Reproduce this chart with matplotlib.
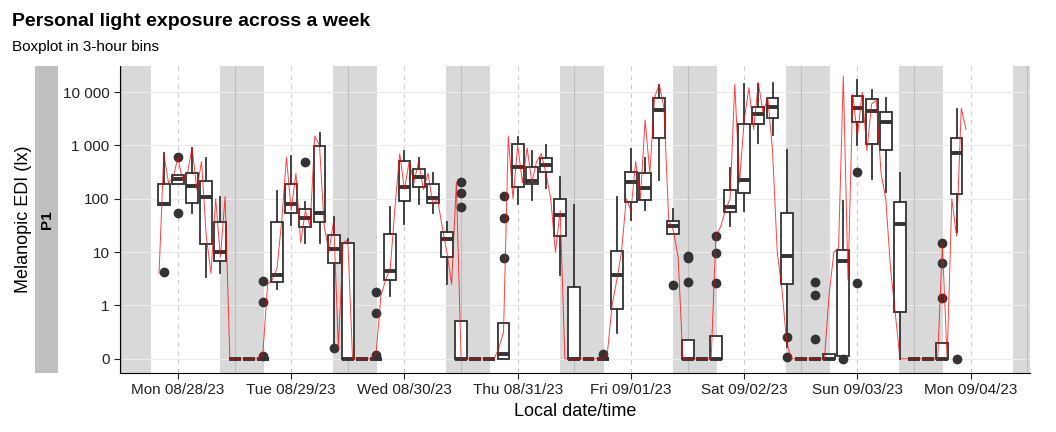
import matplotlib
matplotlib.use("Agg")
import matplotlib.pyplot as plt
import numpy as np

plt.rcParams['font.family'] = ['Liberation Sans', 'DejaVu Sans']

# --- data -------------------------------------------------------------
tick_labels = ["Mon 08/28/23", "Tue 08/29/23", "Wed 08/30/23", "Thu 08/31/23",
               "Fri 09/01/23", "Sat 09/02/23", "Sun 09/03/23", "Mon 09/04/23"]

# 3-hour bin centres, hours since Mon 08/28 00:00
bin_hours = [9, 12, 15, 18, 21,
             24, 27, 30, 33, 36, 39, 42, 45,
             48, 51, 54, 57, 60, 63, 66, 69,
             72, 75, 78, 81, 84, 87, 90, 93,
             96, 99, 102, 105, 108, 111, 114, 117,
             120, 123, 126, 129, 132, 135, 138, 141,
             144, 147, 150, 153, 156, 159, 162, 165,
             168, 171, 174, 177]
# whisker low, q1, median, q3, whisker high
wlo = [77, 190, 53, 3.4, 4,
       0, 0, 0, 2.0, 32, 15, 15, 0.2,
       0, 0, 0, 1.5, 33, 80, 53, 2.5,
       0, 0, 0, 0, 80, 95, 160, 3.8,
       0, 0, 0, 0.49, 40, 62, 225, 22,
       0, 0, 0, 31, 58, 1100, 1600, 0.22,
       0, 0, 0, 0, 1000, 230, 135, 0,
       0, 0, 0, 24]
q1 = [77, 190, 83, 14, 6.8,
      0, 0, 0, 2.8, 55, 29, 36, 6.2,
      0, 0, 0, 3.0, 90, 165, 83, 8,
      0, 0, 0, 0, 165, 190, 320, 20,
      0, 0, 0, 0.93, 88, 95, 1400, 22,
      0, 0, 0, 56, 130, 2550, 3200, 2.5,
      0, 0, 0, 0.06, 2700, 1050, 820, 0.87,
      0, 0, 0, 125]
med = [80, 240, 177, 107, 10,
       0, 0, 0, 3.8, 80, 43, 55, 11.5,
       0, 0, 0, 4.5, 165, 260, 105, 17.7,
       0, 0, 0, 0.09, 400, 220, 430, 50,
       0, 0, 0, 3.8, 210, 160, 4700, 31,
       0, 0, 0, 70, 225, 3900, 5300, 8.6,
       0, 0, 0, 6.7, 5000, 4500, 2800, 33,
       0, 0, 0, 710]
q3 = [190, 280, 300, 220, 36,
      0, 0, 0, 36, 190, 63, 980, 21,
      15, 0, 0, 22, 500, 360, 190, 24,
      0.7, 0, 0, 0.67, 1050, 400, 575, 100,
      2.2, 0, 0, 10.5, 320, 300, 7600, 39,
      0.36, 0, 0.42, 145, 2500, 5300, 7800, 55,
      0, 0, 0.09, 11, 8500, 7300, 4200, 86,
      0, 0, 0.3, 1360]
whi = [710, 280, 890, 575, 110,
       0, 0, 0, 137, 640, 88, 1700, 46,
       17.5, 0, 0, 71, 770, 575, 310, 36,
       0.7, 0, 0, 0.67, 1450, 770, 1000, 260,
       77, 0, 0, 110, 850, 590, 13500, 65,
       0.36, 0, 0.42, 385, 14000, 14000, 15000, 820,
       0, 0, 0.09, 91, 17000, 11000, 7800, 310,
       0, 0, 0.3, 4900]
outliers = {9: [4.2], 12: [620, 55], 30: [2.9, 1.15, 0.06], 39: [480], 45: [0.2],
            54: [1.8, 0.86, 0.07], 72: [210, 130, 71], 81: [113, 44, 7.7],
            102: [0.1], 117: [2.4], 120: [8.3, 7.7, 2.7], 126: [20, 9.8, 2.6],
            141: [0.4, 0.03], 147: [2.7, 1.6, 0.37], 153: [0.0],
            156: [320, 2.6], 174: [14.7, 6.2, 1.4], 177: [0.0]}

# hourly light readings (lx), starting Mon 08/28 08:00
line_start_hour = 8
line_values = [
    4, 700, 200, 250, 600, 220, 300, 900, 150, 500, 20, 4, 100, 8, 110, 0,          # Mon 08-23
    0, 0, 0, 0, 0, 0, 0.1, 2.5, 3, 5, 40, 600, 60, 300, 15, 60, 30, 1500, 1000, 30, 10, 40, 0.2, 15,  # Tue
    17, 0, 0, 0, 0, 0, 0.1, 1.5, 3, 5, 70, 700, 150, 500, 200, 500, 150, 300, 80, 100, 30, 10, 2.5, 200,  # Wed
    0, 0, 0, 0, 0, 0, 0, 0, 0.2, 0.5, 1500, 100, 1000, 200, 900, 200, 500, 700, 300, 100, 10, 60, 0, 0,  # Thu
    0, 0, 0, 0, 0, 0, 0, 0.1, 1, 3, 10, 100, 60, 500, 100, 3000, 300, 8000, 14000, 5000, 40, 25, 8, 0,  # Fri
    0, 0, 0, 0, 0, 0, 20, 30, 60, 100, 14000, 200, 3000, 12000, 2000, 15000, 4000, 8000, 800, 10, 2, 0.3, 0, 0,  # Sat
    0, 0, 0, 0, 0, 0, 1.6, 10, 12, 20000, 3, 9000, 1500, 10000, 800, 6000, 7000, 300, 100, 5, 0.87, 0, 0, 0,  # Sun
    0, 0, 0, 0, 0, 0, 14, 0, 100, 20, 5000, 2000]                                      # Mon 09/04

night_start_hour = 20.9
night_end_hour = 6.2

# --- figure -----------------------------------------------------------
fig = plt.figure(figsize=(10.56, 4.32), dpi=100)
ax = fig.add_axes([0.1136, 0.137, 0.975 - 0.1136, 0.71])

# night shading
ax.axvspan(-1, night_end_hour / 24, color="#D9D9D9", lw=0, zorder=0)
for d in range(8):
    ax.axvspan(d + night_start_hour / 24, d + 1 + night_end_hour / 24, color="#D9D9D9", lw=0, zorder=0)

ax.set_yscale("symlog", linthresh=1, linscale=0.9)
ax.set_ylim(-0.262, 30700)
ax.set_xlim(-0.012, 8.02)

yt = [0, 1, 10, 100, 1000, 10000]
ax.set_yticks(yt)
ax.set_yticklabels(["0", "1", "10", "100", "1 000", "10 000"])
ax.yaxis.set_minor_locator(matplotlib.ticker.NullLocator())
for v in yt:
    ax.axhline(v, color="#EBEBEB", lw=0.8, zorder=0.5)
for d in range(9):
    ax.axvline(d, color="#BEBEBE", lw=0.8, zorder=0.5)
for d in range(8):
    ax.axvline(d + 0.5, color="#CCCCCC", lw=0.8, ls=(0, (4, 4)), zorder=0.5)

ax.set_xticks([d + 0.5 for d in range(8)])
ax.set_xticklabels(tick_labels)

stats = []
for i, h in enumerate(bin_hours):
    stats.append(dict(whislo=wlo[i], q1=q1[i], med=med[i], q3=q3[i], whishi=whi[i],
                      fliers=outliers.get(h, [])))
pos = [h / 24 for h in bin_hours]
ax.bxp(stats, positions=pos, widths=0.105, showcaps=False, patch_artist=True, manage_ticks=False,
       boxprops=dict(facecolor="white", edgecolor="#333333", lw=1.3),
       whiskerprops=dict(color="#333333", lw=1.3),
       medianprops=dict(color="#333333", lw=2.8),
       flierprops=dict(marker="o", markerfacecolor="#333333", markeredgecolor="#333333", markersize=6),
       zorder=2)

tl = [(line_start_hour + i) / 24 for i in range(len(line_values))]
ax.plot(tl, line_values, color="red", lw=0.7, alpha=0.75, zorder=3)

for s in ["top", "right"]:
    ax.spines[s].set_visible(False)
ax.tick_params(labelsize=11, colors="#222222", length=4)
ax.set_xlabel("Local date/time", fontsize=13)
ax.set_ylabel("Melanopic EDI (lx)", fontsize=13, labelpad=22)

# facet strip
strip = fig.add_axes([35 / 1056, 0.137, 23 / 1056, 0.71])
strip.set_facecolor("#C0C0C0")
strip.set_xticks([]); strip.set_yticks([])
for s in strip.spines.values():
    s.set_visible(False)
strip.text(0.5, 0.5, "P1", rotation=90, ha="center", va="center", fontsize=11,
           fontweight="bold", transform=strip.transAxes)

fig.text(12 / 1056, 1 - 22 / 432, "Personal light exposure across a week", fontsize=14,
         fontweight="bold", va="center")
fig.text(12 / 1056, 1 - 47 / 432, "Boxplot in 3-hour bins", fontsize=11, va="center")

fig.savefig("out.png", dpi=100)
